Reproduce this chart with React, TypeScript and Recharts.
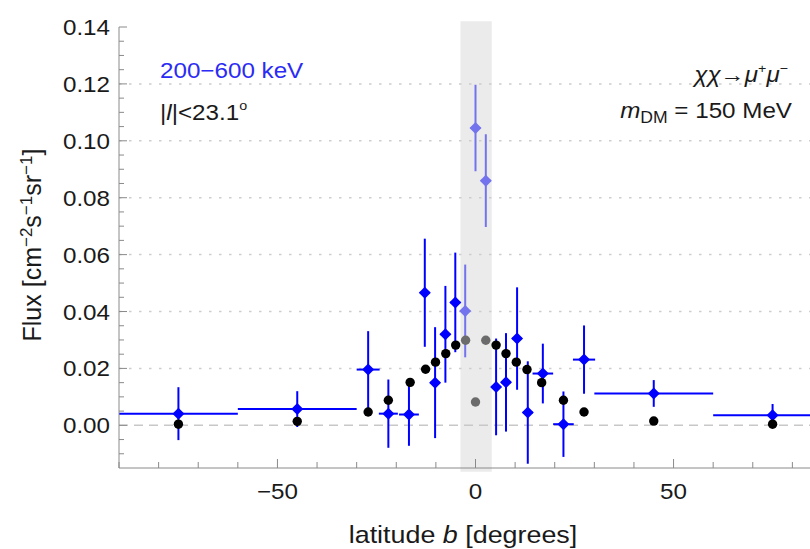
import React from 'react';
import { ScatterChart, Scatter, XAxis, YAxis, ErrorBar, ReferenceLine, ReferenceArea } from 'recharts';

// measured flux per latitude bin (blue), outside the masked band
const bCenter = [-75, -45, -27.1, -22.0, -16.8, -12.8, -10.2, -7.6, -5.1, 5.2, 7.7, 10.5, 13.2, 17.0, 22.2, 27.4, 45, 75];
const flux = [0.0041, 0.0057, 0.0196, 0.0041, 0.0038, 0.0466, 0.015, 0.032, 0.0432, 0.0135, 0.0151, 0.0305, 0.0045, 0.0182, 0.0004, 0.0231, 0.0112, 0.0035];
const fluxErr = [0.0093, 0.0063, 0.0135, 0.012, 0.011, 0.019, 0.0195, 0.017, 0.0175, 0.017, 0.0173, 0.018, 0.018, 0.0105, 0.0115, 0.012, 0.0047, 0.004];
const bHalfWidth = [15, 15, 2.9, 2.4, 2.5, 1.25, 1.25, 1.25, 1.25, 1.25, 1.25, 1.25, 1.25, 2.6, 2.6, 2.8, 15, 15];

// bins inside the masked band (drawn faded)
const maskedB = [-2.6, 0, 2.6];
const maskedFlux = [0.0402, 0.1045, 0.086];
const maskedErr = [0.0163, 0.0152, 0.0163];
const maskedHalfWidth = [1.25, 1.25, 1.25];

// DM model prediction
const modelB = [-75, -45, -27.1, -22.0, -16.5, -12.6, -10.1, -7.5, -5.0, 5.2, 7.7, 10.3, 13.0, 16.7, 22.2, 27.4, 45, 75];
const modelFlux = [0.0004, 0.0014, 0.0047, 0.0088, 0.0151, 0.0197, 0.0222, 0.0252, 0.0282, 0.0282, 0.0252, 0.0222, 0.0196, 0.015, 0.0088, 0.0047, 0.0015, 0.0004];
const modelMaskedB = [-2.5, 0, 2.6];
const modelMaskedFlux = [0.0299, 0.0082, 0.0299];

const xTicks = [-90, -80, -70, -60, -50, -40, -30, -20, -10, 0, 10, 20, 30, 40, 50, 60, 70, 80, 90];
const xLabelTicks = [-50, 0, 50];
const yTicks = [-0.01, -0.005, 0, 0.005, 0.01, 0.015, 0.02, 0.025, 0.03, 0.035, 0.04, 0.045, 0.05, 0.055, 0.06, 0.065, 0.07, 0.075, 0.08, 0.085, 0.09, 0.095, 0.1, 0.105, 0.11, 0.115, 0.12, 0.125, 0.13, 0.135, 0.14];
const yLabelTicks = [0, 0.02, 0.04, 0.06, 0.08, 0.1, 0.12, 0.14];
const yGrid = [0.02, 0.04, 0.06, 0.08, 0.1, 0.12];
const maskBand = [-3.8, 4.1];

const BLUE = '#0000ff';
const BLUE_FADED = '#7373ee';
const AXIS = '#8a8a8a';
const TEXT = '#1a1a1a';
const FONT = '"Liberation Sans", Arial, sans-serif';

const blue = bCenter.map((x, i) => ({ x, y: flux[i], yErr: fluxErr[i], xErr: bHalfWidth[i] }));
const blueMasked = maskedB.map((x, i) => ({ x, y: maskedFlux[i], yErr: maskedErr[i], xErr: maskedHalfWidth[i] }));
const model = modelB.map((x, i) => ({ x, y: modelFlux[i] }));
const modelMasked = modelMaskedB.map((x, i) => ({ x, y: modelMaskedFlux[i] }));

const isLabelled = (v: number, list: number[]) => list.some((t) => Math.abs(t - v) < 1e-9);
const fmtX = (v: number) => (v < 0 ? `\u2212${Math.abs(v)}` : `${v}`);

const BottomTick = ({ x, y, payload }: any) => {
  const major = isLabelled(payload.value, xLabelTicks);
  return (
    <g>
      <line x1={x} x2={x} y1={y} y2={y - (major ? 9 : 6)} stroke={AXIS} />
      {major && (
        <text transform={`translate(${x},${y + 30.5}) scale(1.1,1)`} textAnchor="middle" fontSize={22} fontFamily={FONT} fill={TEXT}>
          {fmtX(payload.value)}
        </text>
      )}
    </g>
  );
};

const TopTick = ({ x, y, payload }: any) => {
  const major = isLabelled(payload.value, xLabelTicks);
  return <line x1={x} x2={x} y1={y} y2={y + (major ? 8 : 4.5)} stroke={AXIS} />;
};

const LeftTick = ({ x, y, payload }: any) => {
  const major = isLabelled(payload.value, yLabelTicks);
  return (
    <g>
      <line x1={x} x2={x + (major ? 8 : 5)} y1={y} y2={y} stroke={AXIS} />
      {major && (
        <text transform={`translate(${x - 9},${y + 8}) scale(1.1,1)`} textAnchor="end" fontSize={22} fontFamily={FONT} fill={TEXT}>
          {payload.value.toFixed(2)}
        </text>
      )}
    </g>
  );
};

const diamond = (color: string) => (props: any) => {
  const { cx, cy } = props;
  const r = 6;
  return <polygon points={`${cx},${cy - r} ${cx + r},${cy} ${cx},${cy + r} ${cx - r},${cy}`} fill={color} />;
};

const dot = (color: string) => (props: any) => <circle cx={props.cx} cy={props.cy} r={4.7} fill={color} />;

export default function App() {
  return (
    <div style={{ position: 'absolute', left: 0, top: 0, width: 810, height: 549, overflow: 'hidden', background: '#fff' }}>
      <ScatterChart width={850} height={549} margin={{ top: 27, right: 18, bottom: 0, left: 0 }}>
        <XAxis
          type="number"
          dataKey="x"
          domain={[-90, 90]}
          ticks={xTicks}
          interval={0}
          allowDataOverflow
          height={81}
          tickSize={0}
          tickMargin={0}
          tickLine={false}
          axisLine={{ stroke: AXIS }}
          tick={BottomTick}
        />
        <XAxis
          xAxisId="top"
          orientation="top"
          type="number"
          dataKey="x"
          domain={[-90, 90]}
          ticks={xTicks}
          interval={0}
          allowDataOverflow
          height={0}
          tickSize={0}
          tickMargin={0}
          tickLine={false}
          axisLine={{ stroke: AXIS }}
          tick={TopTick}
        />
        <YAxis
          type="number"
          dataKey="y"
          domain={[-0.015, 0.14]}
          ticks={yTicks}
          interval={0}
          allowDataOverflow
          width={119}
          tickSize={0}
          tickMargin={0}
          tickLine={false}
          axisLine={{ stroke: AXIS }}
          tick={LeftTick}
        />
        <ReferenceArea x1={maskBand[0]} x2={maskBand[1]} y1={-0.0163} y2={0.142} fill="#ebebeb" fillOpacity={1} stroke="none" ifOverflow="visible" />
        {yGrid.map((v) => (
          <ReferenceLine key={v} y={v} stroke="#cdcdcd" strokeWidth={1.5} strokeDasharray="2.5 7.5" />
        ))}
        <ReferenceLine y={0} stroke="#c8c8c8" strokeWidth={1.5} strokeDasharray="9 6" />
        <Scatter data={blue} shape={diamond(BLUE)} isAnimationActive={false}>
          <ErrorBar dataKey="yErr" direction="y" width={0} stroke={BLUE} strokeWidth={2} />
          <ErrorBar dataKey="xErr" direction="x" width={0} stroke={BLUE} strokeWidth={2} />
        </Scatter>
        <Scatter data={blueMasked} shape={diamond(BLUE_FADED)} isAnimationActive={false}>
          <ErrorBar dataKey="yErr" direction="y" width={0} stroke={BLUE_FADED} strokeWidth={2} />
          <ErrorBar dataKey="xErr" direction="x" width={0} stroke={BLUE_FADED} strokeWidth={2} />
        </Scatter>
        <Scatter data={model} shape={dot('#000000')} isAnimationActive={false} />
        <Scatter data={modelMasked} shape={dot('#6b6b6b')} isAnimationActive={false} />
      </ScatterChart>
      <svg width={810} height={549} style={{ position: 'absolute', left: 0, top: 0, pointerEvents: 'none' }} fontFamily={FONT}>
        <text transform="translate(160,78) scale(1.1,1)" fontSize={22} fill="#2b2bf5">200{'\u2212'}600 keV</text>
        <text transform="translate(160,120) scale(1.1,1)" fontSize={22} fill={TEXT}>
          |<tspan fontStyle="italic">l</tspan>|&lt;23.1<tspan fontSize={13} dy={-10}>o</tspan>
        </text>
        <text transform="translate(788,82) scale(1.1,1)" fontSize={22} fill={TEXT} textAnchor="end">
          <tspan fontStyle="italic">{'\u03c7\u03c7'}</tspan>{'\u2192'}<tspan fontStyle="italic">{'\u03bc'}</tspan>
          <tspan fontSize={13} dy={-9}>+</tspan>
          <tspan fontStyle="italic" dy={9}>{'\u03bc'}</tspan>
          <tspan fontSize={13} dy={-9}>{'\u2212'}</tspan>
        </text>
        <text transform="translate(792,118) scale(1.1,1)" fontSize={22} fill={TEXT} textAnchor="end">
          <tspan fontStyle="italic">m</tspan>
          <tspan fontSize={16} dy={5}>DM</tspan>
          <tspan dy={-5}> = 150 MeV</tspan>
        </text>
        <text transform="translate(463,543) scale(1.12,1)" fontSize={24} fill={TEXT} textAnchor="middle">
          latitude <tspan fontStyle="italic">b</tspan> [degrees]
        </text>
        <text transform="translate(41,245) rotate(-90)" fontSize={25} fill={TEXT} textAnchor="middle">
          Flux [cm<tspan fontSize={17} dy={-9}>{'\u2212'}2</tspan>
          <tspan dy={9}>s</tspan>
          <tspan fontSize={17} dy={-9}>{'\u2212'}1</tspan>
          <tspan dy={9}>sr</tspan>
          <tspan fontSize={17} dy={-9}>{'\u2212'}1</tspan>
          <tspan dy={9}>]</tspan>
        </text>
      </svg>
    </div>
  );
}
